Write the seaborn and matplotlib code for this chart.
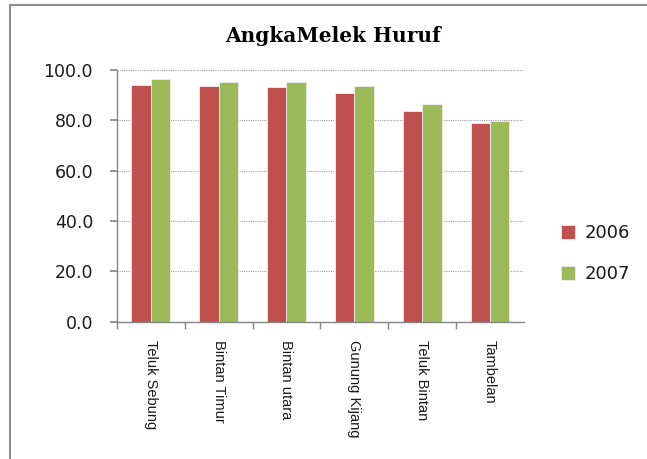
#!/usr/bin/env python3

import pandas as pd
import seaborn as sns
from matplotlib import pyplot as plt
from matplotlib.lines import Line2D

# values
kecamatan = ["Teluk Sebung", "Bintan Timur", "Bintan utara",
             "Gunung Kijang", "Teluk Bintan", "Tambelan"]
tahun = ["2006", "2007"]
nilai_2006 = [93.9, 93.7, 93.3, 90.6, 83.6, 78.7]
nilai_2007 = [96.5, 95.0, 95.0, 93.5, 86.3, 79.8]
y_ticks = [0, 20, 40, 60, 80, 100]

df = pd.DataFrame({
    "kecamatan": kecamatan * 2,
    "tahun": [tahun[0]] * len(kecamatan) + [tahun[1]] * len(kecamatan),
    "nilai": nilai_2006 + nilai_2007,
})

sns.set_theme(style="white")
plt.rcParams["font.family"] = ["DejaVu Sans"]

fig = plt.figure(figsize=(6.47, 4.59), dpi=100)
ax = fig.add_axes([0.1804, 0.299, 0.6296, 0.549])

sns.barplot(data=df, x="kecamatan", y="nilai", hue="tahun", ax=ax,
            palette=["#C0504D", "#9BBB59"], width=0.57, saturation=1,
            edgecolor="#f0f0f0", linewidth=0.6)

ax.set_ylim(0, 100)
ax.set_xlim(-0.5, 5.5)
ax.set_yticks(y_ticks)
ax.set_yticklabels([f"{v:.1f}" for v in y_ticks], fontsize=12.5,
                   color="#1a1a1a")
ax.yaxis.grid(True, linestyle=(0, (1, 1)), color="#a0a0a0", linewidth=0.8)
ax.set_axisbelow(True)
ax.set_xlabel("")
ax.set_ylabel("")

for side in ["top", "right"]:
    ax.spines[side].set_visible(False)
for side in ["left", "bottom"]:
    ax.spines[side].set_color("#868686")
    ax.spines[side].set_linewidth(1.0)

ax.tick_params(axis="y", left=True, length=5, color="#868686", pad=12)
ax.set_xticks(range(len(kecamatan)))
ax.set_xticklabels(kecamatan, rotation=-90, va="top", ha="center",
                   fontsize=10.5, color="#1a1a1a",
                   family=["Liberation Sans Narrow", "Liberation Sans"])
ax.tick_params(axis="x", bottom=False, pad=7)
ax.set_xticks([i - 0.5 for i in range(len(kecamatan))], minor=True)
ax.tick_params(axis="x", which="minor", bottom=True, length=5,
               color="#868686")

ax.set_title("AngkaMelek Huruf", fontsize=14.5, fontweight="bold",
             family=["DejaVu Serif"], color="black", pad=20, x=0.531)

leg = ax.legend(loc="center left", bbox_to_anchor=(1.05, 0.27),
                frameon=False, fontsize=13, handlelength=0.8,
                handleheight=0.8, handletextpad=0.5, labelspacing=1.3)
for t in leg.get_texts():
    t.set_color("#1a1a1a")

# border of the cropped chart area (only top and left visible)
fig.add_artist(Line2D([10 / 647, 10 / 647], [0, 1 - 5 / 459],
                      transform=fig.transFigure, color="#8c8c8c", lw=1.5))
fig.add_artist(Line2D([10 / 647, 1], [1 - 5 / 459, 1 - 5 / 459],
                      transform=fig.transFigure, color="#8c8c8c", lw=1.5))

fig.savefig("out.png", dpi=100)
